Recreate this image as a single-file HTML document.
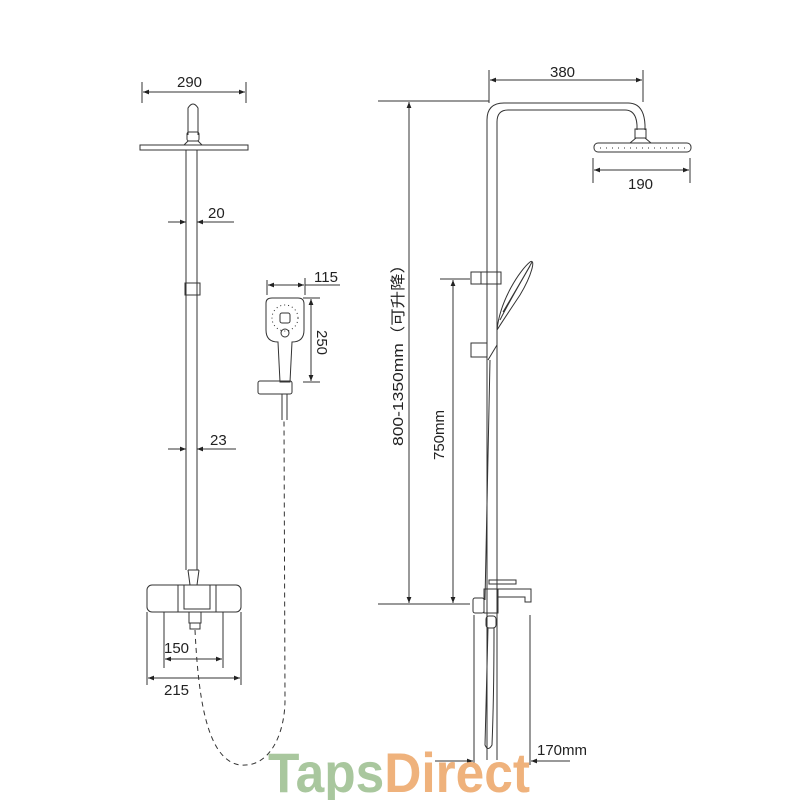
<!DOCTYPE html>
<html><head><meta charset="utf-8"><style>
html,body{margin:0;padding:0;background:#fff;}
svg{display:block;}
text{font-family:"Liberation Sans","Noto Sans CJK SC",sans-serif;fill:#222;}
</style></head><body>
<svg width="800" height="800" viewBox="0 0 800 800" xmlns="http://www.w3.org/2000/svg">
<defs>
<marker id="a" viewBox="0 0 10 10" refX="10" refY="5" markerWidth="9" markerHeight="6" orient="auto-start-reverse" markerUnits="userSpaceOnUse"><path d="M0,1 L10,5 L0,9 z" fill="#222"/></marker>
</defs>
<g stroke="#333" stroke-width="1" fill="none">
<line x1="142" y1="82" x2="142" y2="103"/><line x1="246" y1="82" x2="246" y2="103"/>
<line x1="143" y1="92" x2="245" y2="92" marker-start="url(#a)" marker-end="url(#a)"/>
<path d="M188,135 V108 Q193,100 198,108 V135"/>
<rect x="187" y="132" width="12" height="9" rx="2"/>
<path d="M184,145 L188,141 H198 L202,145"/>
<rect x="140" y="145" width="108" height="5"/>
<line x1="186" y1="150" x2="186" y2="570"/><line x1="197" y1="150" x2="197" y2="570"/>
<rect x="185" y="283" width="15" height="12"/>
<line x1="168" y1="222" x2="186" y2="222" marker-end="url(#a)"/>
<line x1="234" y1="222" x2="197" y2="222" marker-end="url(#a)"/>
<line x1="168" y1="449" x2="186" y2="449" marker-end="url(#a)"/>
<line x1="236" y1="449" x2="197" y2="449" marker-end="url(#a)"/>
<path d="M188,570 L190,585 M199,570 L197,585 M188,570 H199"/>
<rect x="147" y="585" width="94" height="27" rx="5"/>
<rect x="184" y="585" width="26" height="24"/>
<line x1="178" y1="585" x2="178" y2="612"/><line x1="216" y1="585" x2="216" y2="612"/>
<rect x="189" y="612" width="12" height="11"/>
<rect x="190" y="623" width="10" height="6"/>
<line x1="147" y1="612" x2="147" y2="685"/><line x1="241" y1="612" x2="241" y2="685"/>
<line x1="164" y1="612" x2="164" y2="668"/><line x1="223" y1="612" x2="223" y2="668"/>
<line x1="165" y1="659" x2="222" y2="659" marker-start="url(#a)" marker-end="url(#a)"/>
<line x1="148" y1="678" x2="240" y2="678" marker-start="url(#a)" marker-end="url(#a)"/>
<path d="M195,630 C198,690 205,760 240,765 C272,768 285,730 285,700 L284,420" stroke-dasharray="5,4"/>
<line x1="267" y1="280" x2="267" y2="295"/><line x1="305" y1="278" x2="305" y2="295"/>
<line x1="268" y1="285" x2="304" y2="285" marker-start="url(#a)" marker-end="url(#a)"/>
<line x1="305" y1="285" x2="340" y2="285"/>
<path d="M266,303 Q266,298 272,298 H298 Q304,298 304,304 V330 Q304,342 292,342 L290,382 H280 L278,342 Q266,342 266,330 Z"/>
<circle cx="285" cy="318" r="13" stroke-dasharray="1,3"/>
<rect x="280" y="313" width="10" height="10" rx="2"/>
<circle cx="285" cy="333" r="4"/>
<rect x="258" y="381" width="34" height="13" rx="2"/>
<line x1="282" y1="394" x2="282" y2="420"/><line x1="287" y1="394" x2="287" y2="420"/>
<line x1="303" y1="298" x2="320" y2="298"/><line x1="303" y1="382" x2="320" y2="382"/>
<line x1="311" y1="299" x2="311" y2="381" marker-start="url(#a)" marker-end="url(#a)"/>
<line x1="489" y1="70" x2="489" y2="103"/><line x1="643" y1="70" x2="643" y2="102"/>
<line x1="490" y1="80" x2="642" y2="80" marker-start="url(#a)" marker-end="url(#a)"/>
<line x1="378" y1="101" x2="489" y2="101"/>
<path d="M487,760 V120 Q487,103 504,103 H628 Q644,103 645,125 V130"/>
<path d="M497,760 V122 Q497,110 508,110 H625 Q636,110 637,125 V130"/>
<rect x="635" y="129" width="11" height="9"/>
<path d="M636,138 L630,143 H651 L645,138"/>
<rect x="594" y="143" width="97" height="9" rx="4"/>
<line x1="600" y1="148" x2="686" y2="148" stroke-dasharray="1,5"/>
<line x1="593" y1="158" x2="593" y2="183"/><line x1="690" y1="158" x2="690" y2="183"/>
<line x1="594" y1="170" x2="689" y2="170" marker-start="url(#a)" marker-end="url(#a)"/>
<line x1="409" y1="102" x2="409" y2="603" marker-start="url(#a)" marker-end="url(#a)"/>
<line x1="378" y1="604" x2="470" y2="604"/>
<line x1="440" y1="279" x2="470" y2="279"/>
<line x1="453" y1="280" x2="453" y2="603" marker-start="url(#a)" marker-end="url(#a)"/>
<rect x="471" y="272" width="26" height="12"/>
<line x1="481" y1="272" x2="481" y2="284"/>
<rect x="497" y="272" width="4" height="12"/>
<path d="M497,330 C500,300 520,270 530,262 C536,258 532,275 520,295 C510,310 502,322 497,330 Z"/>
<path d="M500,320 C510,300 522,280 530,266 M503,312 C513,295 525,275 532,262"/>
<path d="M497,345 L488,360" />
<rect x="471" y="343" width="16" height="14"/>
<line x1="490" y1="360" x2="485" y2="600"/>
<path d="M489,584 H516 V580 H489 Z"/>
<rect x="484" y="589" width="14" height="24"/>
<path d="M498,589 H531 V602 H525 V597 H498"/>
<rect x="473" y="598" width="11" height="15" rx="2"/>
<rect x="486" y="616" width="10" height="12" rx="3"/>
<path d="M488,628 C487,680 486,720 485,745 Q488,752 492,745 C493,720 494,680 494,628"/>
<line x1="474" y1="615" x2="474" y2="765"/><line x1="530" y1="615" x2="530" y2="765"/>
<line x1="435" y1="761" x2="473" y2="761" marker-end="url(#a)"/>
<line x1="570" y1="761" x2="531" y2="761" marker-end="url(#a)"/>
</g>
<g font-size="15">
<text x="177" y="87">290</text>
<text x="208" y="218">20</text>
<text x="210" y="445">23</text>
<text x="164" y="653">150</text>
<text x="164" y="695">215</text>
<text x="314" y="282">115</text>
<text transform="translate(317,330) rotate(90)">250</text>
<text x="550" y="77">380</text>
<text x="628" y="189">190</text>
<text x="537" y="755">170mm</text>
<text transform="translate(403,446) rotate(-90)" textLength="190" lengthAdjust="spacingAndGlyphs">800-1350mm（可升降）</text>
<text transform="translate(444,460) rotate(-90)">750mm</text>
</g>
<text x="268" y="792" font-size="56" font-weight="bold" textLength="262" lengthAdjust="spacingAndGlyphs" style="fill:#a9c79e"><tspan>Taps</tspan><tspan style="fill:#efb27c">Direct</tspan></text>
</svg>
</body></html>
